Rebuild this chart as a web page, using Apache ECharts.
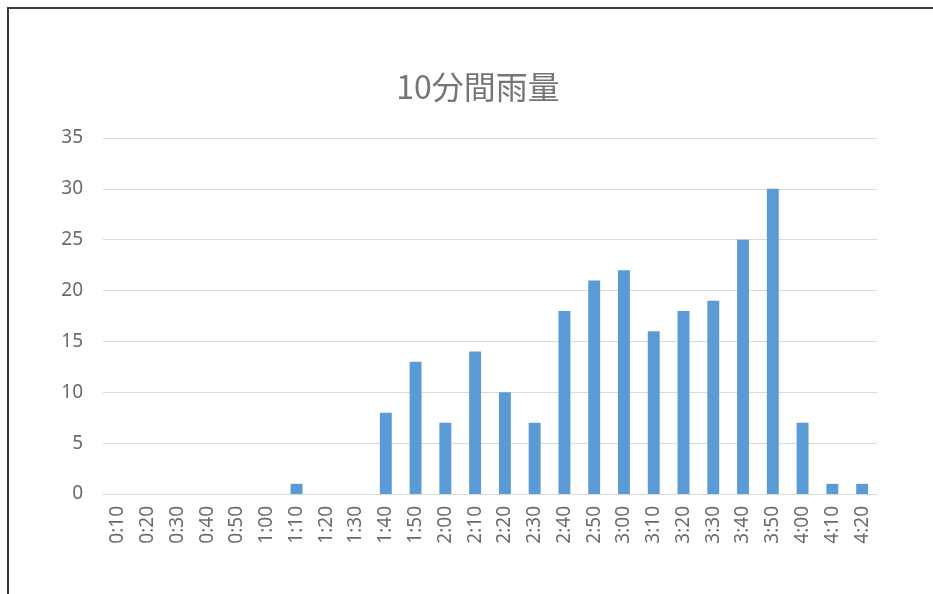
<!DOCTYPE html>
<html><head><meta charset="utf-8">
<script src="https://cdn.jsdelivr.net/npm/echarts@6/dist/echarts.min.js"></script>
<style>
html,body{margin:0;padding:0;background:#fff;}
#frame{position:absolute;left:7px;top:7px;width:940px;height:600px;border-left:2px solid #3a3a3a;border-top:2px solid #3a3a3a;}
#c{position:absolute;left:0;top:0;width:933px;height:594px;}
</style></head>
<body>
<div id="frame"></div>
<div id="c"></div>
<script>
const categories = ['0:10','0:20','0:30','0:40','0:50','1:00','1:10','1:20','1:30','1:40','1:50','2:00','2:10','2:20','2:30','2:40','2:50','3:00','3:10','3:20','3:30','3:40','3:50','4:00','4:10','4:20'];
const rainfall = [0,0,0,0,0,0,1,0,0,8,13,7,14,10,7,18,21,22,16,18,19,25,30,7,1,1];
const titleText = '10分間雨量';

const chart = echarts.init(document.getElementById('c'));
chart.setOption({
  animation:false,
  backgroundColor:'transparent',
  title:{text:titleText,left:473,top:66,textAlign:'center',
    textStyle:{fontFamily:'Noto Sans CJK JP',fontSize:32,fontWeight:'normal',color:'#757575'}},
  grid:{left:103,right:56,top:138,bottom:100,containLabel:false},
  xAxis:{type:'category',data:categories,
    axisLine:{lineStyle:{color:'#d9d9d9',width:1}},
    axisTick:{show:false},
    axisLabel:{rotate:90,interval:0,margin:12,color:'#6a6a6a',fontSize:19,fontFamily:'Noto Sans'}},
  yAxis:{type:'value',min:0,max:35,interval:5,
    axisLine:{show:false},axisTick:{show:false},
    splitLine:{lineStyle:{color:'#d9d9d9',width:1}},
    axisLabel:{margin:20,color:'#6a6a6a',fontSize:19,fontFamily:'Noto Sans'}},
  series:[{type:'bar',data:rainfall,barWidth:'40%',itemStyle:{color:'#5b9bd5'}}]
});
</script>
</body></html>
